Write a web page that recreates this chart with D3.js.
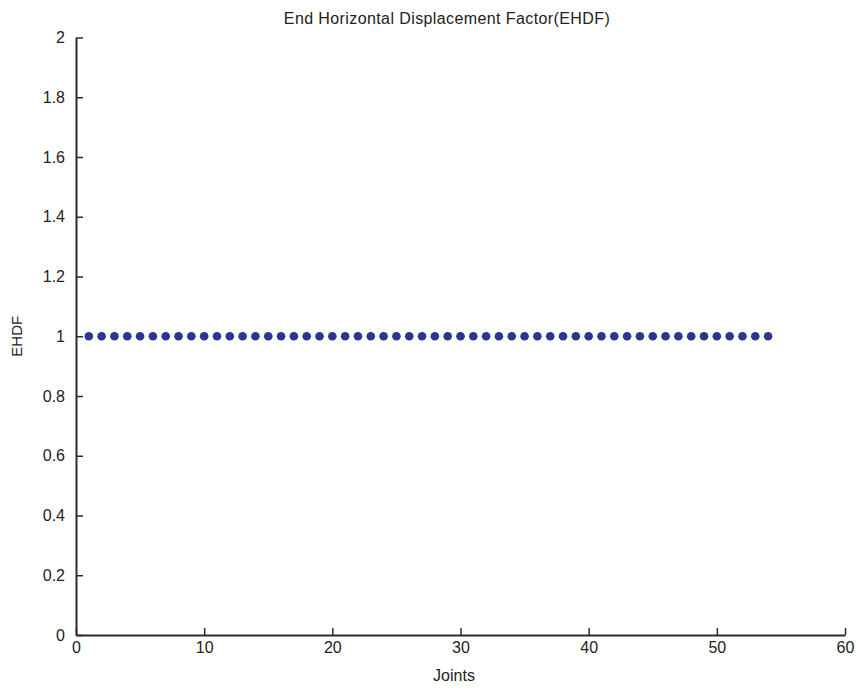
<!DOCTYPE html>
<html>
<head>
<meta charset="utf-8">
<script src="https://cdn.jsdelivr.net/npm/d3@7"></script>
<style>
  html, body { margin: 0; padding: 0; background: #fff; }
  svg { display: block; }
  text { font-family: "Liberation Sans", Arial, sans-serif; fill: #222; }
</style>
</head>
<body>
<svg id="chart" width="856" height="689"></svg>
<script>
// Joint indices and their end horizontal displacement factors
const joints = d3.range(1, 55);
const ehdf = [
  1, 1, 1, 1, 1, 1, 1, 1, 1, 1,
  1, 1, 1, 1, 1, 1, 1, 1, 1, 1,
  1, 1, 1, 1, 1, 1, 1, 1, 1, 1,
  1, 1, 1, 1, 1, 1, 1, 1, 1, 1,
  1, 1, 1, 1, 1, 1, 1, 1, 1, 1,
  1, 1, 1, 1
];
const xTicks = [0, 10, 20, 30, 40, 50, 60];
const yTicks = [0, 0.2, 0.4, 0.6, 0.8, 1, 1.2, 1.4, 1.6, 1.8, 2];

const svg = d3.select("#chart");
const margin = { left: 76, right: 11, top: 37.5, bottom: 54 };
const W = 856, H = 689;

const x = d3.scaleLinear().domain([0, 60]).range([margin.left, W - margin.right]);
const y = d3.scaleLinear().domain([0, 2]).range([H - margin.bottom, margin.top]);

const axisColor = "#2a2a35";

// x axis with inward ticks
const gx = svg.append("g")
  .attr("transform", `translate(0,${y(0)})`)
  .call(d3.axisBottom(x).tickValues(xTicks).tickSizeInner(-7).tickSizeOuter(0).tickPadding(7)
    .tickFormat(d3.format("d")));
gx.select(".domain").attr("stroke", axisColor).attr("stroke-width", 2);
gx.selectAll(".tick line").attr("stroke", axisColor).attr("stroke-width", 1.5);
gx.selectAll(".tick text").attr("font-size", 16).attr("fill", "#222");

// y axis with inward ticks
const gy = svg.append("g")
  .attr("transform", `translate(${x(0)},0)`)
  .call(d3.axisLeft(y).tickValues(yTicks).tickSizeInner(-7).tickSizeOuter(0).tickPadding(11)
    .tickFormat(d => d3.format("")(+d.toFixed(1))));
gy.select(".domain").attr("stroke", axisColor).attr("stroke-width", 2);
gy.selectAll(".tick line").attr("stroke", axisColor).attr("stroke-width", 1.5);
gy.selectAll(".tick text").attr("font-size", 16).attr("fill", "#222");

// data markers
svg.append("g")
  .selectAll("circle")
  .data(joints.map((j, i) => ({ j, v: ehdf[i] })))
  .join("circle")
  .attr("cx", d => x(d.j))
  .attr("cy", d => y(d.v))
  .attr("r", 4.3)
  .attr("fill", "#2c3591");

// title and axis labels
svg.append("text")
  .attr("x", 447)
  .attr("y", 24)
  .attr("text-anchor", "middle")
  .attr("font-size", 16)
  .attr("letter-spacing", "0.4")
  .text("End Horizontal Displacement Factor(EHDF)");

svg.append("text")
  .attr("x", 454)
  .attr("y", 681)
  .attr("text-anchor", "middle")
  .attr("font-size", 16)
  .text("Joints");

svg.append("text")
  .attr("transform", `translate(22,${y(1)}) rotate(-90)`)
  .attr("text-anchor", "middle")
  .attr("font-size", 15)
  .text("EHDF");
</script>
</body>
</html>
